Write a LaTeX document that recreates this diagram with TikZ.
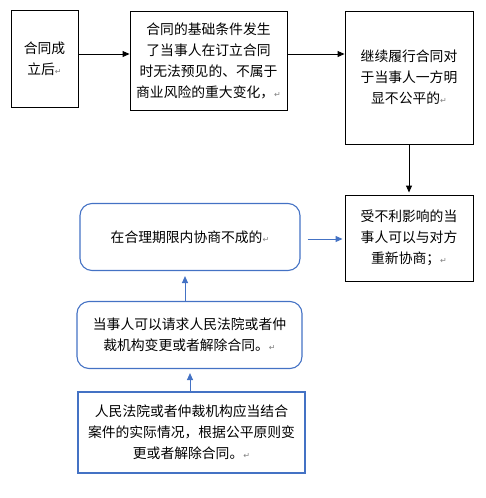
\documentclass[tikz,border=0pt]{standalone}
\usepackage{fontspec}
\setmainfont{Noto Sans CJK SC}
\newfontfamily\symfont{DejaVu Sans}
\usetikzlibrary{arrows.meta}
\definecolor{wordblue}{HTML}{4472C4}
\newcommand{\pmark}{{\symfont\fontsize{8}{8}\selectfont\color{gray}↵}}
\tikzset{
  txt/.style={font=\fontsize{13.8}{21}\selectfont, align=center, inner sep=0pt},
  blackbox/.style={txt, draw=black, line width=0.9pt},
  bluebox/.style={txt, draw=wordblue, line width=1.1pt},
  roundbox/.style={bluebox, rounded corners=12pt},
  arr/.style={-{Triangle[length=7pt,width=6pt]}, line width=0.9pt, black},
  barr/.style={-{Triangle[length=7pt,width=6pt]}, line width=1pt, wordblue},
}
\begin{document}
\begin{tikzpicture}[x=1pt,y=-1pt]
\useasboundingbox (0,0) rectangle (486,498);
\node[blackbox, minimum width=67pt, minimum height=97pt] (A) at (44.5,58.5) {合同成\\立后\pmark};
\node[blackbox, minimum width=157pt, minimum height=99pt] (B) at (208.5,60.5) {合同的基础条件发生\\了当事人在订立合同\\时无法预见的、不属于\\商业风险的重大变化，\pmark};
\node[blackbox, minimum width=128pt, minimum height=133pt] (C) at (409,77.5) {继续履行合同对\\于当事人一方明\\显不公平的\pmark};
\node[blackbox, minimum width=128pt, minimum height=86pt] (D) at (409,238) {受不利影响的当\\事人可以与对方\\重新协商；\pmark};
\node[roundbox, minimum width=220pt, minimum height=67pt] (E) at (190,237) {在合理期限内协商不成的\pmark};
\node[roundbox, minimum width=225pt, minimum height=67pt] (F) at (189.5,335) {当事人可以请求人民法院或者仲\\裁机构变更或者解除合同。\pmark};
\node[bluebox, minimum width=227pt, minimum height=81pt] (G) at (191.5,432.5) {人民法院或者仲裁机构应当结合\\案件的实际情况，根据公平原则变\\更或者解除合同。\pmark};
\draw[arr] ([yshift=4.5pt]A.east) -- ([yshift=4.5pt]A.east -| B.west);
\draw[arr] ([yshift=6.5pt]B.east) -- ([yshift=6.5pt]B.east -| C.west);
\draw[arr] (C.south) -- ([yshift=2pt]D.north);
\draw[barr] ([xshift=7pt,yshift=-2pt]E.east) -- ([xshift=-2pt,yshift=-2pt]E.east -| D.west);
\draw[barr] ([xshift=-4.5pt]F.north) -- ([xshift=-4.5pt,yshift=-5pt]F.north |- E.south);
\draw[barr] ([xshift=-1.5pt]G.north) -- ([xshift=-1.5pt,yshift=-4pt]G.north |- F.south);
\end{tikzpicture}
\end{document}
